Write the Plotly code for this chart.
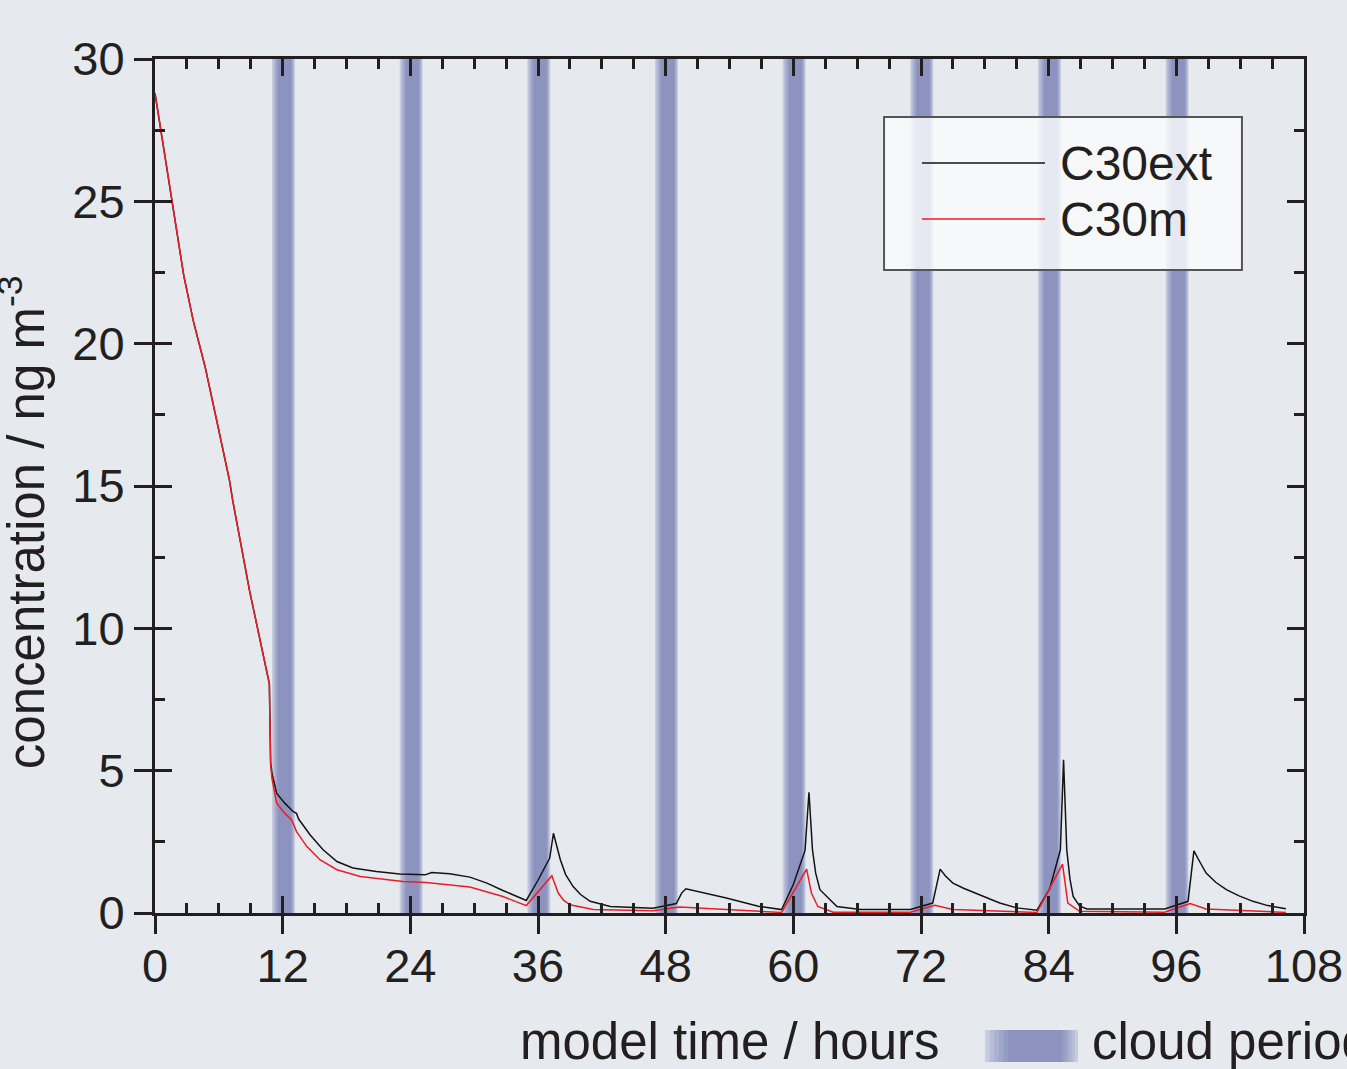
import plotly.graph_objects as go

# ---------------- data ----------------
t_ext = [0, 0.8, 1.6, 2.7, 3.6, 4.7, 5.8, 7.0, 7.3, 8.9, 10.75, 10.87, 11.0, 11.44, 12.2, 13.0,
         13.3, 13.5, 14.57, 15.8, 17.1, 18.6, 20.8, 23.0, 25.4, 26.0, 27.7, 29.6, 31.2, 32.7,
         34.9, 36.0, 37.1, 37.45, 38.1, 38.6, 39.3, 40.0, 40.9, 42.8, 46.8, 49.0, 49.5, 49.9,
         53.7, 56.8, 58.9, 60.0, 61.1, 61.47, 61.8, 62.1, 62.5, 64.1, 66.3, 71.0, 73.1, 73.8,
         74.3, 75.0, 76.0, 77.2, 78.3, 79.4, 81.0, 82.9, 84.1, 85.1, 85.4, 85.7, 86.0, 86.3,
         86.9, 87.6, 94.9, 97.1, 97.65, 98.2, 98.8, 99.7, 100.7, 101.9, 103.2, 104.6, 106.3]
c_ext = [28.8, 26.9, 24.95, 22.4, 20.8, 19.2, 17.3, 15.2, 14.5, 11.3, 8.05, 5.3, 4.9, 4.2, 3.86, 3.56,
         3.5, 3.3, 2.75, 2.22, 1.81, 1.58, 1.46, 1.37, 1.34, 1.42, 1.38, 1.26, 1.05, 0.79,
         0.44, 1.15, 1.93, 2.8, 1.87, 1.35, 0.93, 0.65, 0.41, 0.23, 0.17, 0.33, 0.70, 0.85,
         0.53, 0.23, 0.12, 1.0, 2.2, 4.24, 2.22, 1.4, 0.82, 0.23, 0.12, 0.12, 0.35, 1.54,
         1.3, 1.05, 0.87, 0.7, 0.52, 0.35, 0.18, 0.1, 0.85, 2.22, 5.38, 2.22, 1.2, 0.58,
         0.25, 0.14, 0.14, 0.41, 2.18, 1.8, 1.40, 1.08, 0.82, 0.6, 0.41, 0.26, 0.15]

t_m = [0, 0.8, 1.6, 2.7, 3.6, 4.7, 5.8, 7.0, 7.3, 8.9, 10.75, 10.87, 11.0, 11.44, 12.2, 12.85,
       13.3, 14.26, 15.5, 17.1, 19.3, 23.3, 25.5, 29.6, 32.7, 34.9, 37.3, 37.9, 38.4, 39.0,
       41.2, 46.8, 49.3, 53.7, 58.9, 61.25, 61.7, 62.3, 63.75, 71.0, 73.3, 75.0, 82.9, 85.3,
       85.8, 86.9, 94.9, 97.3, 98.8, 106.3]
c_m = [28.8, 26.9, 24.95, 22.4, 20.8, 19.2, 17.3, 15.2, 14.5, 11.3, 8.05, 5.2, 4.7, 3.86, 3.5, 3.27,
       2.86, 2.34, 1.87, 1.52, 1.28, 1.11, 1.07, 0.91, 0.58, 0.26, 1.31, 0.70, 0.45, 0.29,
       0.12, 0.08, 0.21, 0.12, 0.02, 1.54, 0.70, 0.23, 0.03, 0.03, 0.27, 0.12, 0.02, 1.72,
       0.35, 0.06, 0.03, 0.33, 0.14, 0.02]

cloud_start = [11, 23, 35, 47, 59, 71, 83, 95]
cloud_end = [13.15, 25.15, 37.15, 49.15, 61.15, 73.15, 85.15, 97.15]

x_ticks = [0, 12, 24, 36, 48, 60, 72, 84, 96, 108]
y_ticks = [0, 5, 10, 15, 20, 25, 30]

series_names = ["C30ext", "C30m"]
series_colors = ["#141414", "#ee1c24"]

# ---------------- style ----------------
FONT = "Arial, Liberation Sans, sans-serif"
TXT = "#231f20"
BG = (230, 234, 238)
DARK = (140, 147, 191)
NSTEP = 6


def mix(t):
    t = t ** 0.6
    return "rgb(%d,%d,%d)" % tuple(round(b + (d - b) * t) for b, d in zip(BG, DARK))


def gradient_band(x0, x1, y0, y1, xref, yref, lfade, rfade):
    out = []
    for i in range(NSTEP):
        f = i / (NSTEP - 1)
        out.append(dict(type="rect", xref=xref, yref=yref, layer="below",
                        x0=x0 + lfade * f, x1=x1 - rfade * f, y0=y0, y1=y1,
                        fillcolor=mix((i + 1) / NSTEP), line=dict(width=0)))
    return out


fig = go.Figure()
fig.add_trace(go.Scatter(x=t_ext, y=c_ext, mode="lines", name=series_names[0],
                         line=dict(color=series_colors[0], width=1.5), showlegend=False))
fig.add_trace(go.Scatter(x=t_m, y=c_m, mode="lines", name=series_names[1],
                         line=dict(color=series_colors[1], width=1.5), showlegend=False))
fig.add_trace(go.Scatter(x=[None], y=[None], xaxis="x2", yaxis="y2", showlegend=False,
                         hoverinfo="skip"))

shapes = []
for s, e in zip(cloud_start, cloud_end):
    shapes += gradient_band(s, e, 0, 1, "x", "paper", 0.6, 0.35)

# legend box (manual, long line samples)
LX0, LX1, LY0, LY1 = 0.6345, 0.946, 0.7529, 0.932
shapes.append(dict(type="rect", xref="paper", yref="paper", x0=LX0, x1=LX1, y0=LY0, y1=LY1,
                   fillcolor="rgba(250,251,252,0.82)", line=dict(color="#555555", width=2)))
leg_y = [0.8782, 0.8126]
annotations = []
for name, col, yy in zip(series_names, series_colors, leg_y):
    shapes.append(dict(type="line", xref="paper", yref="paper", x0=0.6675, x1=0.7746,
                       y0=yy, y1=yy, line=dict(color=col, width=1.5)))
    annotations.append(dict(xref="paper", yref="paper", x=0.7859, y=yy, text=name,
                            showarrow=False, xanchor="left", yanchor="middle",
                            font=dict(family=FONT, size=48, color=TXT)))

# cloud period legend swatch below the plot
shapes += gradient_band(0.7224, 0.8033, -0.1745, -0.137, "paper", "paper", 0.02, 0.014)
annotations.append(dict(xref="paper", yref="paper", x=0.8137, y=-0.151, text="cloud period",
                        showarrow=False, xanchor="left", yanchor="middle",
                        font=dict(family=FONT, size=51, color=TXT)))
annotations.append(dict(xref="paper", yref="paper", x=0.5, y=-0.151, text="model time / hours",
                        showarrow=False, xanchor="center", yanchor="middle",
                        font=dict(family=FONT, size=51, color=TXT)))
annotations.append(dict(xref="paper", yref="paper", x=-0.1155, y=0.458,
                        text="concentration / ng m<sup>-3</sup>", textangle=-90,
                        showarrow=False, xanchor="center", yanchor="middle",
                        font=dict(family=FONT, size=51, color=TXT)))

axis_common = dict(showgrid=False, zeroline=False, linecolor="#231f20", linewidth=3,
                   tickcolor="#231f20", tickwidth=3, automargin=False)

fig.update_layout(
    width=1347, height=1069,
    margin=dict(l=155, r=43, t=59, b=156),
    paper_bgcolor="rgb(230,234,238)", plot_bgcolor="rgb(230,234,238)",
    font=dict(family=FONT, size=46, color=TXT),
    showlegend=False,
    shapes=shapes, annotations=annotations,
    xaxis=dict(range=[0, 108], tickvals=x_ticks, ticktext=[str(v) for v in x_ticks],
               ticks="outside", ticklen=18, mirror=True, showline=True, ticklabelstandoff=-8,
               tickfont=dict(family=FONT, size=47, color=TXT), **axis_common),
    yaxis=dict(range=[0, 30], tickvals=y_ticks, ticktext=[str(v) for v in y_ticks],
               ticks="outside", ticklen=18, mirror=True, showline=True,
               tickfont=dict(family=FONT, size=47, color=TXT), **axis_common),
    xaxis2=dict(overlaying="x", matches="x", anchor="y2", side="bottom", range=[0, 108],
                tickvals=x_ticks, ticks="inside", ticklen=17, mirror="ticks", showline=True,
                showticklabels=False,
                minor=dict(ticks="inside", dtick=3, tick0=0, ticklen=10, tickwidth=3,
                           tickcolor="#231f20", showgrid=False),
                **axis_common),
    yaxis2=dict(overlaying="y", matches="y", anchor="x2", side="left", range=[0, 30],
                tickvals=y_ticks, ticks="inside", ticklen=17, mirror="ticks", showline=True,
                showticklabels=False,
                minor=dict(ticks="inside", dtick=2.5, tick0=0, ticklen=10, tickwidth=3,
                           tickcolor="#231f20", showgrid=False),
                **axis_common),
)

fig.write_html("out.html")
